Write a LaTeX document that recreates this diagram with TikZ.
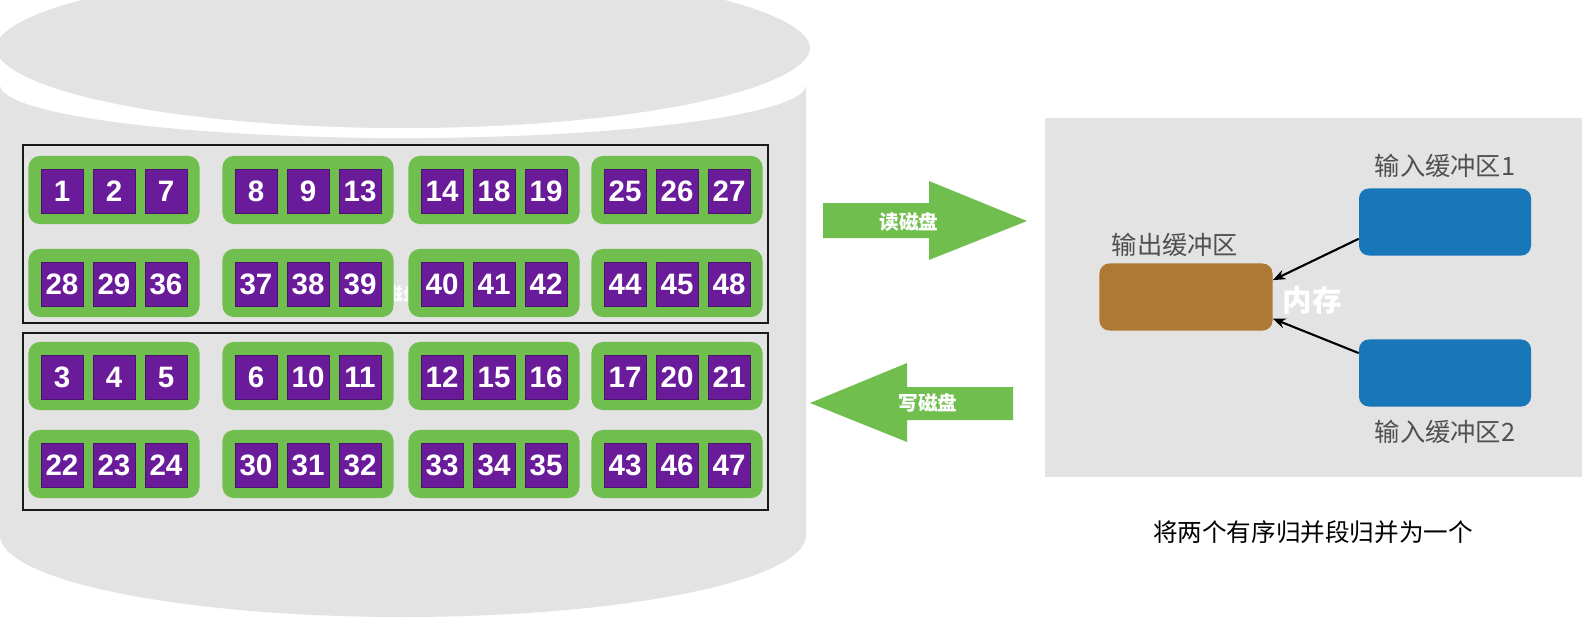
\documentclass[tikz,border=0pt]{standalone}
\usepackage{fontspec}
\setmainfont{Liberation Sans}
\newfontfamily\cjk{Noto Sans CJK SC}
\usetikzlibrary{arrows.meta}
\definecolor{diskgray}{HTML}{E3E3E3}
\definecolor{rungreen}{HTML}{70BF4E}
\definecolor{recpurple}{HTML}{6A1B9A}
\definecolor{bufblue}{HTML}{1777B8}
\definecolor{bufbrown}{HTML}{AD7935}
\definecolor{labelgray}{HTML}{505050}
\tikzset{
  run/.style={fill=rungreen, rounded corners=8pt, minimum width=4.275cm,
    minimum height=1.7cm, inner sep=0pt},
  rec/.style={fill=recpurple, draw=recpurple!70!black, line width=0.4pt,
    minimum width=1.05cm, minimum height=1.1cm, inner sep=0pt, text=white,
    font=\fontsize{21}{21}\selectfont\bfseries},
  roughbox/.style={draw=black!90, line width=2pt},
  flowtext/.style={text=white, font=\cjk\fontsize{14}{14}\selectfont\bfseries},
  inbuf/.style={fill=bufblue, rounded corners=7pt, minimum width=4.3cm,
    minimum height=1.675cm, inner sep=0pt},
  outbuf/.style={fill=bufbrown, rounded corners=7pt, minimum width=4.325cm,
    minimum height=1.675cm, inner sep=0pt},
  buflabel/.style={text=labelgray, inner sep=0pt, font=\cjk\fontsize{18}{18}\selectfont},
}
\begin{document}
\begin{tikzpicture}[x=0.025cm, y=-0.025cm]
  \useasboundingbox (0,0) rectangle (1582,625);
  % disk
  \fill[diskgray] (0,85) -- (0,535)
    arc[start angle=180, end angle=0, x radius=403, y radius=82]
    -- (806,85) arc[start angle=0, end angle=180, x radius=403, y radius=53] -- cycle;
  \draw[white, line width=7pt, fill=diskgray] (403,48) ellipse [x radius=412, y radius=85];
  \node[text=white, inner sep=0pt, font=\cjk\fontsize{12.5}{12.5}\selectfont\bfseries]
    (disklbl) at (403,294) {磁盘};
  \draw[roughbox] (23,145) rectangle (768,323);
  \draw[roughbox] (23,333) rectangle (768,510);
  % runs on disk
  \draw
    (114,190) node[run] (seg1){}
    (308,190) node[run] (seg2){}
    (494,190) node[run] (seg3){}
    (677,190) node[run] (seg4){}
    (62,191) node[rec] (k1){1}
    (114,191) node[rec] (k2){2}
    (166,191) node[rec] (k7){7}
    (256,191) node[rec] (k8){8}
    (308,191) node[rec] (k9){9}
    (360,191) node[rec] (k13){13}
    (442,191) node[rec] (k14){14}
    (494,191) node[rec] (k18){18}
    (546,191) node[rec] (k19){19}
    (625,191) node[rec] (k25){25}
    (677,191) node[rec] (k26){26}
    (729,191) node[rec] (k27){27};
  \draw
    (114,283) node[run] (seg5){}
    (308,283) node[run] (seg6){}
    (494,283) node[run] (seg7){}
    (677,283) node[run] (seg8){}
    (62,284) node[rec] (k28){28}
    (114,284) node[rec] (k29){29}
    (166,284) node[rec] (k36){36}
    (256,284) node[rec] (k37){37}
    (308,284) node[rec] (k38){38}
    (360,284) node[rec] (k39){39}
    (442,284) node[rec] (k40){40}
    (494,284) node[rec] (k41){41}
    (546,284) node[rec] (k42){42}
    (625,284) node[rec] (k44){44}
    (677,284) node[rec] (k45){45}
    (729,284) node[rec] (k48){48};
  \draw
    (114,376) node[run] (seg9){}
    (308,376) node[run] (seg10){}
    (494,376) node[run] (seg11){}
    (677,376) node[run] (seg12){}
    (62,377) node[rec] (k3){3}
    (114,377) node[rec] (k4){4}
    (166,377) node[rec] (k5){5}
    (256,377) node[rec] (k6){6}
    (308,377) node[rec] (k10){10}
    (360,377) node[rec] (k11){11}
    (442,377) node[rec] (k12){12}
    (494,377) node[rec] (k15){15}
    (546,377) node[rec] (k16){16}
    (625,377) node[rec] (k17){17}
    (677,377) node[rec] (k20){20}
    (729,377) node[rec] (k21){21};
  \draw
    (114,464) node[run] (seg13){}
    (308,464) node[run] (seg14){}
    (494,464) node[run] (seg15){}
    (677,464) node[run] (seg16){}
    (62,465) node[rec] (k22){22}
    (114,465) node[rec] (k23){23}
    (166,465) node[rec] (k24){24}
    (256,465) node[rec] (k30){30}
    (308,465) node[rec] (k31){31}
    (360,465) node[rec] (k32){32}
    (442,465) node[rec] (k33){33}
    (494,465) node[rec] (k34){34}
    (546,465) node[rec] (k35){35}
    (625,465) node[rec] (k43){43}
    (677,465) node[rec] (k46){46}
    (729,465) node[rec] (k47){47};
  % read / write arrows
  \fill[rungreen] (823,203) -- (929,203) -- (929,181) -- (1027,221)
    -- (929,260) -- (929,238) -- (823,238) -- cycle;
  \node[flowtext] (readlbl) at (909,222) {读磁盘};
  \fill[rungreen] (1013,387) -- (907,387) -- (907,363) -- (810,403)
    -- (907,442) -- (907,420) -- (1013,420) -- cycle;
  \node[flowtext] (writelbl) at (928,403) {写磁盘};
  % memory
  \fill[diskgray] (1045,118) rectangle (1582,477);
  \node[outbuf] (out) at (1186,297) {};
  \node[inbuf] (in1) at (1445,222) {};
  \node[inbuf] (in2) at (1445,373) {};
  \node[buflabel] (outlbl) at (1175,245) {输出缓冲区};
  \node[buflabel] (in1lbl) at (1445,166) {输入缓冲区1};
  \node[buflabel] (in2lbl) at (1445,432) {输入缓冲区2};
  \node[text=white, inner sep=0pt, font=\cjk\fontsize{21}{21}\selectfont\bfseries]
    (mem) at (1312,300) {内存};
  \begin{scope}[-{Stealth[length=9pt, width=7pt]}, line width=1.5pt]
    \draw (in1.191) -- (out.11);
    \draw (in2.167) -- (out.346);
  \end{scope}
  \node[inner sep=0pt, font=\cjk\fontsize{17.5}{17.5}\selectfont] (note) at (1313,532)
    {将两个有序归并段归并为一个};
\end{tikzpicture}
\end{document}
